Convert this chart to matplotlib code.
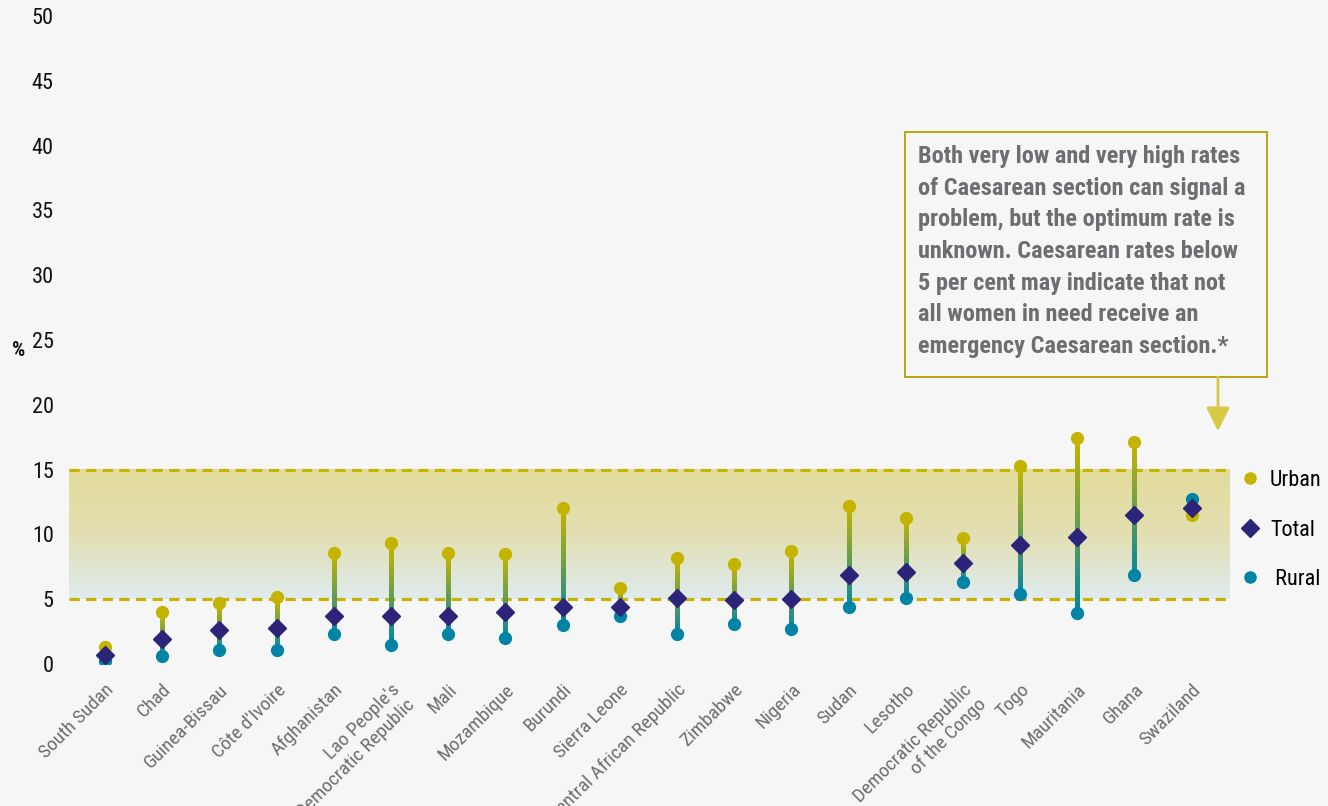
import numpy as np
import matplotlib
matplotlib.use("Agg")
import matplotlib.pyplot as plt
from matplotlib import font_manager
from matplotlib.collections import LineCollection
from matplotlib.colors import LinearSegmentedColormap, to_rgb
from matplotlib.lines import Line2D
from matplotlib.patches import Rectangle, FancyArrowPatch

countries = [
    "South Sudan", "Chad", "Guinea-Bissau", "Côte d'Ivoire", "Afghanistan",
    "Lao People's\nDemocratic Republic", "Mali", "Mozambique", "Burundi",
    "Sierra Leone", "Central African Republic", "Zimbabwe", "Nigeria", "Sudan",
    "Lesotho", "Democratic Republic\nof the Congo", "Togo", "Mauritania",
    "Ghana", "Swaziland",
]
urban = [1.3, 4.0, 4.7, 5.2, 8.6, 9.3, 8.6, 8.5, 12.0, 5.9, 8.2, 7.7, 8.7,
         12.2, 11.3, 9.7, 15.3, 17.4, 17.1, 11.5]
total = [0.7, 1.9, 2.6, 2.8, 3.7, 3.7, 3.7, 4.0, 4.4, 4.4, 5.1, 4.9, 5.0,
         6.9, 7.1, 7.8, 9.2, 9.8, 11.5, 12.0]
rural = [0.2, 0.6, 1.1, 1.1, 2.3, 1.5, 2.3, 2.0, 3.0, 3.7, 2.3, 3.1, 2.7,
         4.4, 5.1, 6.3, 5.4, 3.9, 6.9, 12.7]

band_low, band_high = 5, 15
note = ("Both very low and very high rates\n"
        "of Caesarean section can signal a\n"
        "problem, but the optimum rate is\n"
        "unknown. Caesarean rates below\n"
        "5 per cent may indicate that not\n"
        "all women in need receive an\n"
        "emergency Caesarean section.*")

BG = "#f6f6f6"
URBAN_C = "#c4b400"
RURAL_C = "#0084a5"
TOTAL_C = "#2b2479"
GREY = "#6d6e71"

# look for a narrow/condensed face, the original uses one
names = {f.name for f in font_manager.fontManager.ttflist}
stretches = {(f.name, f.stretch) for f in font_manager.fontManager.ttflist}
FAMILY, STRETCH, SCALE = "Roboto", "normal", 0.85
if "Liberation Sans Narrow" in names:
    FAMILY, STRETCH, SCALE = "Liberation Sans Narrow", "normal", 1.0
elif "Roboto Condensed" in names:
    FAMILY, STRETCH, SCALE = "Roboto Condensed", "normal", 1.0
elif any(n == "DejaVu Sans" and s in ("condensed", "semi-condensed", 500, 400)
         for n, s in stretches if s != "normal"):
    FAMILY, STRETCH, SCALE = "DejaVu Sans", "condensed", 0.9
plt.rcParams["font.family"] = [FAMILY, "DejaVu Sans"]
plt.rcParams["font.stretch"] = STRETCH

fig = plt.figure(figsize=(13.28, 8.06), dpi=100, facecolor=BG)
ax = fig.add_axes([69 / 1328, 1 - 664 / 806, (1230 - 69) / 1328, 648 / 806])
ax.set_facecolor(BG)

x = np.arange(len(countries))
xmin, xmax = -0.63, 19.67
ax.set_xlim(xmin, xmax)
ax.set_ylim(0, 50)

# gradient band between 5 and 15
band_cmap = LinearSegmentedColormap.from_list("band", ["#dfebee", "#e2dfb2", "#e3dc9c"])
grad = np.linspace(0, 1, 200).reshape(-1, 1)
ax.imshow(grad, cmap=band_cmap, origin="lower", aspect="auto",
          extent=[xmin, xmax, band_low, band_high], zorder=0)
for yv in (band_low, band_high):
    ax.axhline(yv, color="#c8b400", lw=2.3, linestyle=(0, (3.2, 2.0)), zorder=1)

# gradient stems from rural to urban
c_r = np.array(to_rgb(RURAL_C))
c_u = np.array(to_rgb(URBAN_C))
segs, cols = [], []
n = 25
for xi, r, u in zip(x, rural, urban):
    ys = np.linspace(r, u, n + 1)
    for k in range(n):
        segs.append([(xi, ys[k]), (xi, ys[k + 1])])
        t = (k + 0.5) / n
        cols.append(c_r * (1 - t) + c_u * t)
ax.add_collection(LineCollection(segs, colors=cols, linewidths=2.4,
                                 capstyle="projecting", antialiased=False,
                                 zorder=2))

ax.plot(x, urban, "o", color=URBAN_C, ms=8.5, zorder=3, linestyle="none")
ax.plot(x, rural, "o", color=RURAL_C, ms=8.5, zorder=3, linestyle="none")
ax.plot(x, total, "D", color=TOTAL_C, ms=9.0, zorder=4, linestyle="none")

for s in ax.spines.values():
    s.set_visible(False)
ax.set_yticks(range(0, 51, 5))
ax.tick_params(axis="y", length=0, pad=11, labelsize=16 * SCALE, labelcolor="#111111")
ax.set_xticks(x)
ax.set_xticklabels(countries, rotation=45, ha="right", va="top",
                   rotation_mode="anchor", fontsize=14 * SCALE, color=GREY,
                   multialignment="right")
ax.tick_params(axis="x", length=0, pad=12)

fig.text(12 / 1328, 1 - 350 / 806, "%", fontsize=15 * SCALE, color="#111111",
         fontweight="bold", va="center", ha="left")

handles = [
    Line2D([], [], marker="o", color=URBAN_C, ms=8, linestyle="none"),
    Line2D([], [], marker="D", color=TOTAL_C, ms=9, linestyle="none"),
    Line2D([], [], marker="o", color=RURAL_C, ms=8, linestyle="none"),
]
fig.legend(handles, ["Urban", "Total", " Rural"], loc="center left",
           bbox_to_anchor=(1229 / 1328, 1 - 530 / 806), frameon=False,
           fontsize=16 * SCALE, handlelength=0.9, handletextpad=0.45,
           labelspacing=1.28, borderpad=0)

# annotation box
fig.patches.append(Rectangle((905 / 1328, 1 - 377 / 806), (1267 - 905) / 1328,
                             (377 - 132) / 806, transform=fig.transFigure,
                             facecolor=BG, edgecolor="#b5a000", lw=1.3, zorder=5))
fig.text(918 / 1328, 1 - 145 / 806, note, fontsize=17.5 * SCALE, fontweight="bold",
         color=GREY, va="top", ha="left", linespacing=1.48, zorder=6)
fig.patches.append(FancyArrowPatch((1218 / 1328, 1 - 377 / 806),
                                   (1218 / 1328, 1 - 431 / 806),
                                   transform=fig.transFigure,
                                   arrowstyle="-|>,head_length=0.9,head_width=0.45",
                                   mutation_scale=16, color="#d6ca45", lw=2,
                                   shrinkA=0, shrinkB=0, zorder=5))

fig.savefig("out.png", dpi=100, facecolor=BG)
